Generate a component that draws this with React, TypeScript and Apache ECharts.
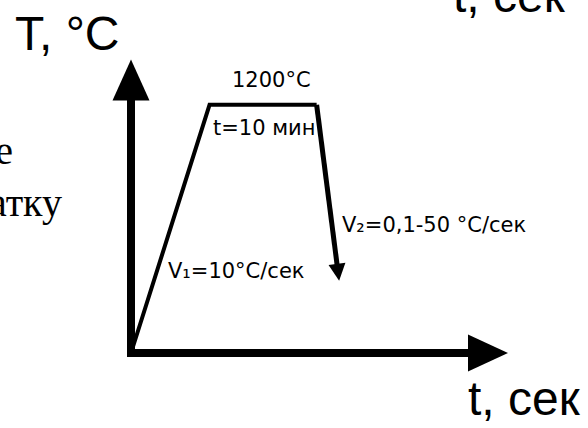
import React, { useEffect, useRef } from "react";
import * as echarts from "echarts";

// schematic time (arbitrary units) and temperature (°C)
const times = [0, 22, 52, 58];
const temps = [0, 1200, 1200, 390];
const xMax = 100;
const yMax = 1320;

const labelPlateauTemp = "1200°C";
const labelHold = "t=10 мин";
const labelHeat = "V₁=10°C/сек";
const labelCool = "V₂=0,1-50 °C/сек";
const labelYAxis = "T, °C";
const labelXAxis = "t, сек";

export default function App() {
  const ref = useRef<HTMLDivElement>(null);
  useEffect(() => {
    if (!ref.current) return;
    const chart = echarts.init(ref.current, undefined, { renderer: "svg" });
    const heatHold = times.slice(0, 3).map((t, i) => [t, temps[i]]);
    const axisCommon = {
      type: "value" as const,
      axisTick: { show: false },
      axisLabel: { show: false },
      splitLine: { show: false },
    };
    const sans = "'Liberation Sans', Arial, sans-serif";
    const small = "'DejaVu Sans', sans-serif";
    const serif = "'Liberation Serif', 'Times New Roman', serif";
    chart.setOption({
      animation: false,
      backgroundColor: "#ffffff",
      grid: { left: 131, right: 100, top: 80, bottom: 75, outerBoundsMode: "none" },
      xAxis: {
        ...axisCommon,
        min: 0,
        max: xMax,
        axisLine: {
          show: true,
          symbol: ["none", "triangle"],
          symbolSize: [37, 40],
          lineStyle: { color: "#000", width: 8, cap: "square" },
        },
      },
      yAxis: {
        ...axisCommon,
        min: 0,
        max: yMax,
        axisLine: {
          show: true,
          symbol: ["none", "triangle"],
          symbolSize: [37, 41],
          lineStyle: { color: "#000", width: 8, cap: "square" },
        },
      },
      series: [
        {
          type: "line",
          data: heatHold,
          showSymbol: false,
          silent: true,
          lineStyle: { color: "#000", width: 4, join: "miter" },
          markLine: {
            silent: true,
            symbol: ["none", "triangle"],
            symbolSize: [17, 17],
            label: { show: false },
            emphasis: { disabled: true },
            lineStyle: { color: "#000", width: 5, type: "solid" },
            data: [
              [
                { coord: [times[2], temps[2]] },
                { coord: [times[3], temps[3]] },
              ],
            ],
          },
        },
      ],
      graphic: [
        { type: "text", x: 15, y: 33, style: { text: labelYAxis, fontSize: 48, fontFamily: sans, fill: "#000", align: "left", verticalAlign: "middle" } },
        { type: "text", x: 468, y: 398, style: { text: labelXAxis, fontSize: 48, fontFamily: sans, fill: "#000", align: "left", verticalAlign: "middle" } },
        { type: "text", x: 453, y: -5, style: { text: labelXAxis, fontSize: 48, fontFamily: sans, fill: "#000", align: "left", verticalAlign: "middle" } },
        { type: "text", x: 13, y: 150, style: { text: "е", fontSize: 40, fontFamily: serif, fill: "#000", align: "right", verticalAlign: "middle" } },
        { type: "text", x: 62, y: 202, style: { text: "атку", fontSize: 40, fontFamily: serif, fill: "#000", align: "right", verticalAlign: "middle" } },
        { type: "text", x: 232, y: 80, style: { text: labelPlateauTemp, fontSize: 21, fontFamily: small, fill: "#000", align: "left", verticalAlign: "middle" } },
        { type: "text", x: 213, y: 128, style: { text: labelHold, fontSize: 21, fontFamily: small, fill: "#000", align: "left", verticalAlign: "middle" } },
        { type: "text", x: 342, y: 225, style: { text: labelCool, fontSize: 21, fontFamily: small, fill: "#000", align: "left", verticalAlign: "middle" } },
        { type: "text", x: 168, y: 271, style: { text: labelHeat, fontSize: 21, fontFamily: small, fill: "#000", align: "left", verticalAlign: "middle" } },
      ],
    });
    return () => chart.dispose();
  }, []);
  return (
    <div
      ref={ref}
      style={{ position: "fixed", left: 0, top: 0, width: 588, height: 428, background: "#fff" }}
    />
  );
}
